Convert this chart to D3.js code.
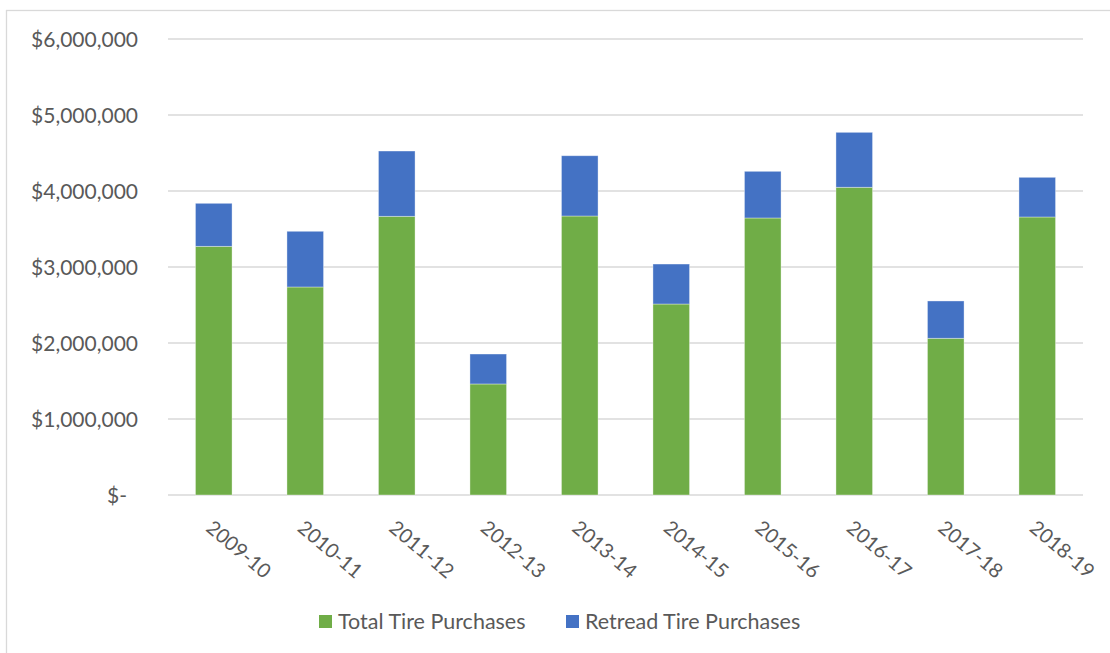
<!DOCTYPE html>
<html>
<head>
<meta charset="utf-8">
<script src="https://cdn.jsdelivr.net/npm/d3@7"></script>
<style>
  html, body { margin: 0; padding: 0; background: #fff; }
  svg { display: block; }
  text { font-family: Lato, "Open Sans", sans-serif; fill: #595959; }
</style>
</head>
<body>
<svg id="chart" width="1110" height="653"></svg>
<script>
const categories = ["2009-10","2010-11","2011-12","2012-13","2013-14","2014-15","2015-16","2016-17","2017-18","2018-19"];
const totalTire = [3272000, 2737000, 3667000, 1461000, 3671000, 2513000, 3645000, 4049000, 2062000, 3658000];
const retreadTire = [566000, 733000, 859000, 394000, 793000, 526000, 614000, 723000, 491000, 522000];
const seriesNames = ["Total Tire Purchases", "Retread Tire Purchases"];
const seriesColors = ["#70AD47", "#4472C4"];
const yTicks = [0, 1000000, 2000000, 3000000, 4000000, 5000000, 6000000];

const svg = d3.select("#chart");
const plotLeft = 168, plotRight = 1083, plotTop = 39, plotBottom = 495;

// outer chart border (only top/left visible in the frame)
svg.append("rect")
  .attr("x", 6.5).attr("y", 10.5)
  .attr("width", 1200).attr("height", 700)
  .attr("fill", "none").attr("stroke", "#d9d9d9").attr("stroke-width", 1.3);

const x = d3.scaleBand().domain(categories).range([plotLeft, plotRight]).paddingInner(0.6).paddingOuter(0.3);
const y = d3.scaleLinear().domain([0, 6000000]).range([plotBottom, plotTop]);

// gridlines
svg.append("g").selectAll("line").data(yTicks).join("line")
  .attr("x1", plotLeft).attr("x2", plotRight)
  .attr("y1", d => y(d)).attr("y2", d => y(d))
  .attr("stroke", "#d9d9d9").attr("stroke-width", 1.4);

// y axis labels
const fmt = d3.format(",");
const yAxis = d3.axisLeft(y).tickValues(yTicks).tickSize(0).tickPadding(0)
  .tickFormat(d => d === 0 ? "$-" : "$" + fmt(d));
const yg = svg.append("g").attr("transform", `translate(138,0)`).call(yAxis);
yg.select(".domain").remove();
yg.selectAll("text")
  .attr("font-family", "Lato, 'Open Sans', sans-serif")
  .attr("font-size", 21).attr("fill", "#595959")
  .attr("dy", "0.35em")
  .attr("dx", d => d === 0 ? -11 : 0);

// stacked data
const rows = categories.map((c, i) => ({cat: c, total: totalTire[i], retread: retreadTire[i]}));
const stack = d3.stack().keys(["total", "retread"]);
const stacked = stack(rows);

svg.append("g").selectAll("g").data(stacked).join("g")
  .attr("fill", (d, i) => seriesColors[i])
  .selectAll("rect").data(d => d).join("rect")
  .attr("x", d => x(d.data.cat))
  .attr("width", x.bandwidth())
  .attr("y", d => y(d[1]))
  .attr("height", d => y(d[0]) - y(d[1]))
  .attr("stroke", "#ffffff").attr("stroke-opacity", 0.45).attr("stroke-width", 0.8);

// x axis labels rotated
const xAxis = d3.axisBottom(x).tickSize(0).tickPadding(0);
const xg = svg.append("g").attr("transform", `translate(0,${plotBottom})`).call(xAxis);
xg.select(".domain").remove();
xg.selectAll("text")
  .attr("font-family", "Lato, 'Open Sans', sans-serif")
  .attr("font-size", 20).attr("fill", "#595959")
  .attr("text-anchor", "start")
  .attr("dy", null)
  .attr("y", 0)
  .attr("transform", "translate(-9,35) rotate(40)");

// legend
const legend = svg.append("g");
const legendItems = [{x: 319, tx: 338}, {x: 566, tx: 585}];
legendItems.forEach((it, i) => {
  legend.append("rect").attr("x", it.x).attr("y", 615).attr("width", 13).attr("height", 13).attr("fill", seriesColors[i]);
  legend.append("text").attr("x", it.tx).attr("y", 629).attr("font-size", 21.5).text(seriesNames[i]);
});
</script>
</body>
</html>
